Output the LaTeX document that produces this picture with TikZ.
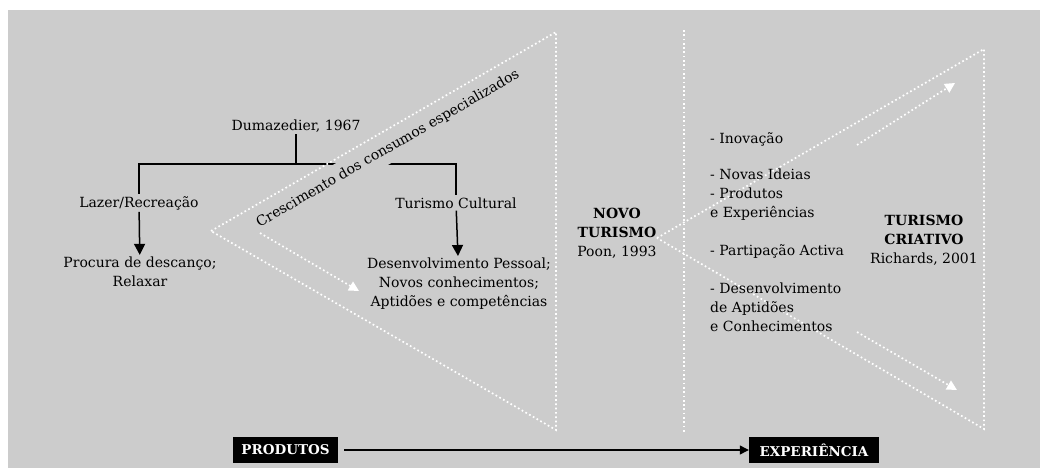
\documentclass[tikz,border=0pt]{standalone}
\usepackage{fontspec}
\setmainfont{DejaVu Serif}
\usetikzlibrary{positioning, calc, arrows.meta}
\tikzset{>=latex}
\definecolor{bggray}{HTML}{CCCCCC}
\tikzset{
  dotline/.style={white, line width=1.7pt, dash pattern=on 1.7pt off 2.6pt},
  dotarrow/.style={dotline, -{Triangle[width=10pt,length=10pt]}},
  txt/.style={font=\fontsize{14}{19}\selectfont, inner sep=2pt},
  tag/.style={fill=black, text=white, font=\fontsize{13.5}{16}\selectfont\bfseries, minimum width=105pt, minimum height=26pt, inner sep=0pt},
  blk/.style={line width=1.5pt},
}

\begin{document}
\begin{tikzpicture}[x=1pt, y=-1pt]
  % Background
  \useasboundingbox (0,0) rectangle (1040,468);
  \fill[bggray] (8,10) rectangle (1040,468);

  % Tree
  \node[txt] (dum) at (296,126) {Dumazedier, 1967};
  \node[txt] (lazer) at (139,203) {Lazer/Recreação};
  \node[txt] (turcult) at (456,203) {Turismo Cultural};
  \node[txt, align=center] (procura) at (140,272) {Procura de descanço;\\Relaxar};
  \node[txt, align=center] (desenv) at (459,284) {Desenvolvimento Pessoal;\\Novos conhecimentos;\\Aptidões e competências};
  \coordinate (fork) at (296,164);
  \draw[blk] (dum) -- (fork) -| (lazer);
  \draw[blk] (fork) -| (turcult);
  \draw[blk, -{Triangle[width=11pt,length=11pt]}] (lazer) -- (procura);
  \draw[blk, -{Triangle[width=11pt,length=11pt]}] (turcult) -- (desenv);

  % Label along the first triangle
  \node[txt, rotate=30, fill=bggray, inner xsep=2pt, inner ysep=7pt] (cresc) at (388,149) {Crescimento dos consumos especializados};

  % Triangles
  \coordinate (la) at (211,231);
  \coordinate (lt) at (556,32);
  \coordinate (lb) at (556,430);
  \draw[dotline] (la) -- (lt) -- (lb) -- cycle;
  \coordinate (mt) at (684,30);
  \coordinate (mb) at (684,432);
  \draw[dotline] (mt) -- (mb);
  \coordinate (ra) at (657,238);
  \coordinate (rt) at (984,49);
  \coordinate (rb) at (984,429);
  \draw[dotline] (ra) -- (rt) -- (rb) -- cycle;

  % Inner arrows
  \coordinate (l1) at (260,233);
  \coordinate (l2) at (359,291);
  \coordinate (ru1) at (857,145);
  \coordinate (ru2) at (955,83);
  \coordinate (rl1) at (857,332);
  \coordinate (rl2) at (957,390);
  \foreach \a/\b in {l1/l2, ru1/ru2, rl1/rl2}
    \draw[dotarrow] (\a) -- (\b);

  % Tourism types
  \node[txt, align=center] (novo) at (617,233) {\textbf{NOVO}\\\textbf{TURISMO}\\Poon, 1993};
  \node[txt, align=center] (criativo) at (924,240) {\textbf{TURISMO}\\\textbf{CRIATIVO}\\Richards, 2001};

  % Features
  \node[txt, anchor=west] (inov) at (708,139) {- Inovação};
  \node[txt, anchor=west, align=left] (ideias) at (708,195) {- Novas Ideias\\- Produtos\\e Experiências};
  \node[txt, anchor=west] (partic) at (708,252) {- Partipação Activa};
  \node[txt, anchor=west, align=left] (aptid) at (708,307) {- Desenvolvimento\\de Aptidões\\e Conhecimentos};

  % Axis
  \node[tag] (prod) at (285.5,450) {PRODUTOS};
  \node[tag, minimum width=130pt] (exper) at (814,450) {EXPERIÊNCIA};
  \draw[line width=1.2pt, shorten <=6pt, -{Triangle[width=9pt,length=9pt]}] (prod) -- (exper);
\end{tikzpicture}
\end{document}
